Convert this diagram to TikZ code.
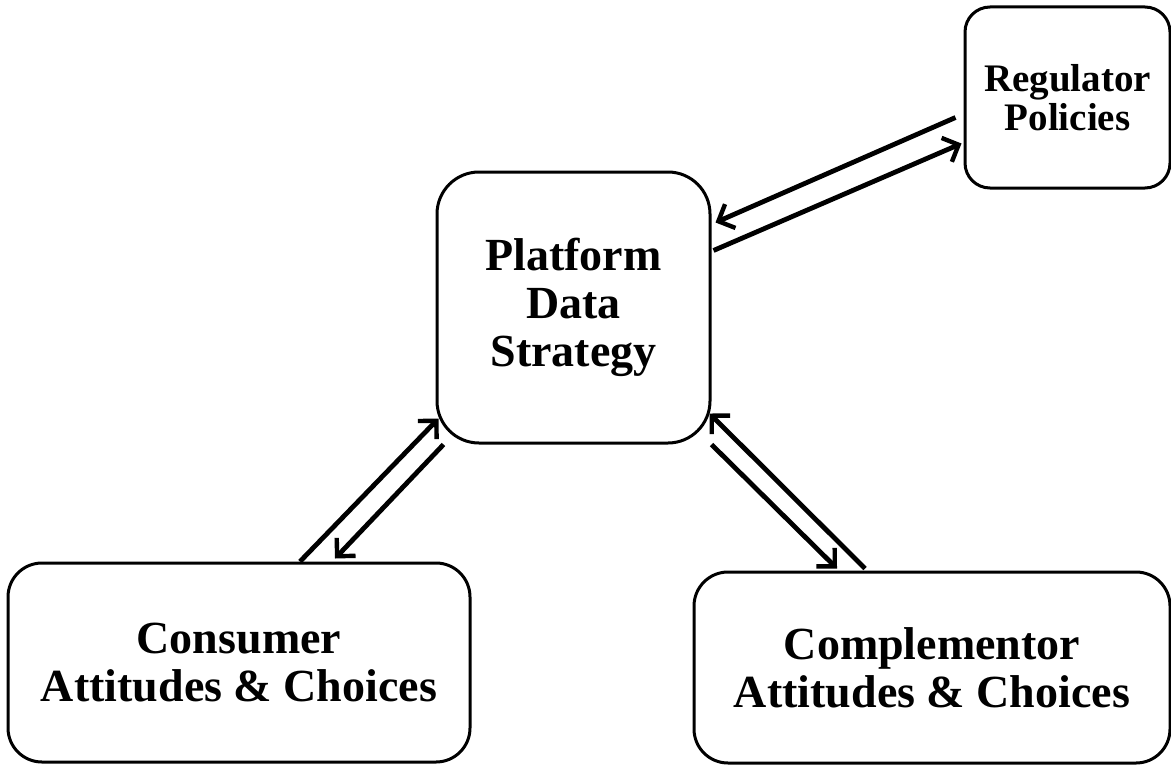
\documentclass[tikz,border=0pt]{standalone}
\usepackage{fontspec}
\setmainfont{Liberation Serif}
\usetikzlibrary{arrows.meta,calc}

\tikzstyle{bigbox} = [draw=black, line width=1.5pt, rounded corners=17pt, align=center, inner sep=0pt, font={\bfseries\fontsize{23}{24}\selectfont}]
\tikzstyle{smallbox} = [draw=black, line width=1.5pt, rounded corners=12.5pt, align=center, inner sep=0pt, font={\bfseries\fontsize{19.5}{19.5}\selectfont}]
\tikzstyle{myarrow} = [line width=2.4pt, -{Straight Barb[length=6.5pt,width=13pt,line width=2.2pt]}]

\begin{document}
\begin{tikzpicture}[x=0.5pt,y=-0.5pt]
\useasboundingbox (0,0) rectangle (1171,765);

\node[bigbox, rounded corners=21pt, minimum width=136.5pt, minimum height=135.5pt] (plat) at (573.5,307.5) {Platform\\Data\\Strategy};
\node[smallbox, minimum width=102.5pt, minimum height=90.5pt] (reg) at (1067.5,97.5) {Regulator\\Policies};
\node[bigbox, minimum width=231pt, minimum height=99.5pt] (cons) at (239,662.5) {Consumer\\Attitudes \& Choices};
\node[bigbox, minimum width=238pt, minimum height=95.5pt] (comp) at (932,667.5) {Complementor\\Attitudes \& Choices};

% platform <-> regulator
\draw[myarrow] ($(reg.west)+(-8,20)$) -- ($(plat.east)+(4,-85)$);
\draw[myarrow] ($(plat.east)+(2,-57)$) -- ($(reg.west)+(-2,46)$);

% platform <-> consumer
\draw[myarrow] ($(cons.north)+(61,0)$) -- ($(plat.south west)+(3,-26)$);
\draw[myarrow] ($(plat.south west)+(8,0)$) -- ($(cons.north)+(96,-3)$);

% platform <-> complementor
\draw[myarrow] ($(comp.north)+(-67,-2)$) -- ($(plat.south east)+(-2,-31)$);
\draw[myarrow] ($(plat.south east)+(0,0)$) -- ($(comp.north)+(-95,-2)$);
\end{tikzpicture}
\end{document}
